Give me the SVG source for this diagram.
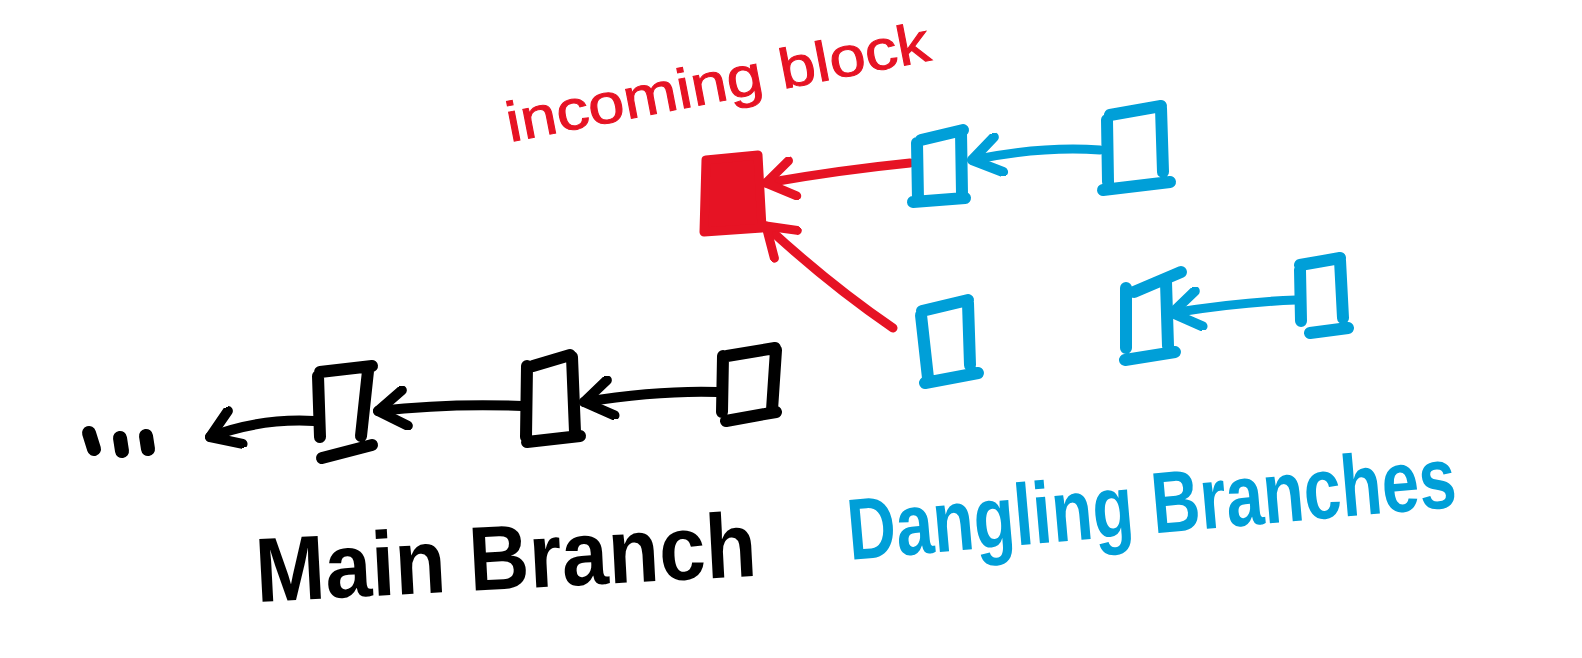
<svg xmlns="http://www.w3.org/2000/svg" width="1582" height="658" viewBox="0 0 1582 658">
<style>
.k{fill:none;stroke:#000;stroke-width:12;stroke-linecap:round;stroke-linejoin:round}
.b{fill:none;stroke:#009FD8;stroke-width:12;stroke-linecap:round;stroke-linejoin:round}
.r{fill:none;stroke:#E61324;stroke-width:9;stroke-linecap:round;stroke-linejoin:round}
.ck{fill:none;stroke:#000;stroke-width:10;stroke-linecap:round}
.cb{fill:none;stroke:#009FD8;stroke-width:9;stroke-linecap:round}
.t{font-family:"Liberation Sans","DejaVu Sans",sans-serif}
</style>
<defs>
<marker id="ak" viewBox="0 0 44 44" refX="38" refY="22" markerWidth="44" markerHeight="44" markerUnits="userSpaceOnUse" orient="auto"><path d="M10,4 L38,22 L12,40" fill="none" stroke="#000" stroke-width="10" stroke-linecap="round" stroke-linejoin="round"/></marker>
<marker id="ab" viewBox="0 0 44 44" refX="38" refY="22" markerWidth="44" markerHeight="44" markerUnits="userSpaceOnUse" orient="auto"><path d="M10,4 L38,22 L12,40" fill="none" stroke="#009FD8" stroke-width="10" stroke-linecap="round" stroke-linejoin="round"/></marker>
<marker id="ar" viewBox="0 0 44 44" refX="38" refY="22" markerWidth="44" markerHeight="44" markerUnits="userSpaceOnUse" orient="auto"><path d="M10,4 L38,22 L12,40" fill="none" stroke="#E61324" stroke-width="9" stroke-linecap="round" stroke-linejoin="round"/></marker>
</defs>
<rect width="1582" height="658" fill="#fff"/>

<g id="connectors">
<path class="r" d="M910,163 Q840,170 766,183" marker-end="url(#ar)"/>
<path class="r" d="M893,328 Q830,285 766,226" marker-end="url(#ar)"/>
<path class="cb" d="M1100,150 Q1040,146 972,160" marker-end="url(#ab)"/>
<path class="cb" d="M1296,300 Q1240,302 1172,313" marker-end="url(#ab)"/>
<path class="ck" d="M718,392 Q660,390 584,402" marker-end="url(#ak)"/>
<path class="ck" d="M522,406 Q450,403 378,411" marker-end="url(#ak)"/>
<path class="ck" d="M314,421 Q260,418 210,437" marker-end="url(#ak)"/>
</g>

<g id="incoming-block">
<path d="M706,160 L758,155 L762,228 L704,232 Z" fill="#E61324" stroke="#E61324" stroke-width="9" stroke-linejoin="round"/>
<text class="t" x="510" y="142" font-size="56" fill="#E61324" stroke="#E61324" stroke-width="1" textLength="430" lengthAdjust="spacingAndGlyphs" transform="rotate(-11 510 142)">incoming block</text>
</g>

<g id="blue-box-1">
<path class="b" d="M917,143 L918,200 M913,202 L965,198 M962,194 L961,132 M963,130 L921,140"/>
</g>
<g id="blue-box-2">
<path class="b" d="M1107,120 L1108,182 M1103,190 L1170,182 M1163,172 L1161,108 M1161,106 L1110,115"/>
</g>
<g id="blue-box-3">
<path class="b" d="M921,315 L928,378 M925,383 L978,373 M970,365 L968,303 M968,300 L922,311"/>
</g>
<g id="blue-box-4">
<path class="b" d="M1126,288 L1126,348 M1125,360 L1175,352 M1168,346 L1166,282 M1181,272 L1134,292"/>
</g>
<g id="blue-box-5">
<path class="b" d="M1300,270 L1301,321 M1310,333 L1348,328 M1343,318 L1340,260 M1340,258 L1300,265"/>
</g>

<g id="main-box-a">
<path class="k" d="M318,376 L320,437 M322,458 L372,445 M361,436 L368,371 M372,366 L320,372"/>
</g>
<g id="main-box-b">
<path class="k" d="M527,366 L526,437 M527,442 L580,436 M575,432 L572,357 M570,355 L533,366"/>
</g>
<g id="main-box-c">
<path class="k" d="M723,356 L722,412 M726,421 L776,412 M772,410 L776,350 M775,348 L727,356"/>
</g>
<g id="ellipsis">
<path class="k" style="stroke-width:14" d="M89,433 L94,449 M120,438 L122,451 M146,436 L148,449"/>
</g>

<g id="labels">
<text class="t" x="0" y="0" font-size="76" font-weight="bold" fill="#000" transform="translate(257 602) rotate(-3) scale(1.1 1.2)">Main Branch</text>
<text class="t" x="0" y="0" font-size="67" font-weight="bold" fill="#009FD8" transform="translate(850 560) rotate(-5) scale(1 1.3)">Dangling Branches</text>
</g>
</svg>
